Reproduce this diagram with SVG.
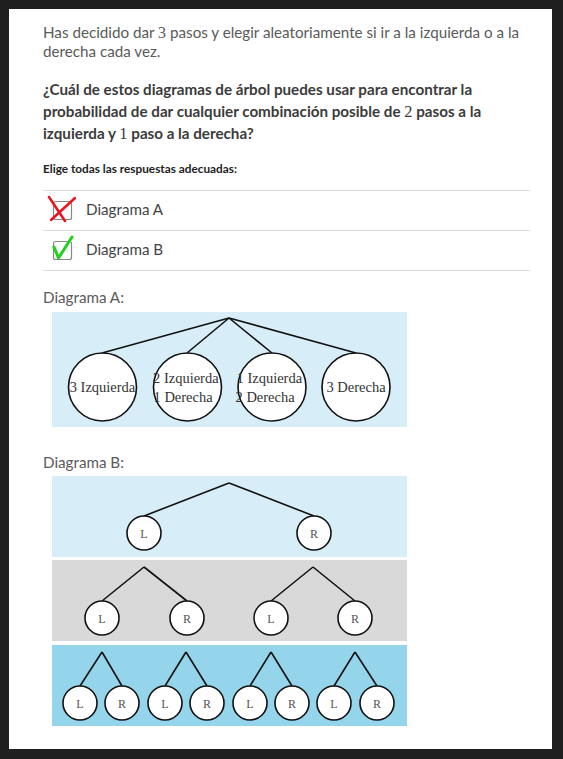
<svg xmlns="http://www.w3.org/2000/svg" width="563" height="759" viewBox="0 0 563 759">
<style>
.t{font-family:Lato,"Open Sans","Liberation Sans",sans-serif;}
.reg{font-size:15.2px;fill:#5a5a5a;}
.bold{font-size:15.2px;font-weight:bold;fill:#3b3b3b;}
.m{font-family:"Liberation Serif","DejaVu Serif",serif;font-weight:normal;}
.opt{font-size:15.2px;fill:#444;}
.nd{fill:#fff;stroke:#111;stroke-width:1.6;}
.ln{stroke:#111;stroke-width:1.6;fill:none;}
.ct{font-family:"Liberation Serif","DejaVu Serif",serif;font-size:14.5px;fill:#333;}
.lt{font-family:"Liberation Serif","DejaVu Serif",serif;font-size:12px;fill:#555;text-anchor:middle;}
.div{stroke:#dcdcdc;stroke-width:1;}
</style>
<rect x="0" y="0" width="563" height="759" fill="#1f1f1f"/>
<rect x="9" y="9" width="543" height="740" fill="#fff"/>

<g id="prompt">
<text class="t reg" x="43" y="38">Has decidido dar <tspan class="m" font-size="16">3</tspan> pasos y elegir aleatoriamente si ir a la izquierda o a la</text>
<text class="t reg" x="43" y="57">derecha cada vez.</text>
<text class="t bold" x="43" y="95">¿Cuál de estos diagramas de árbol puedes usar para encontrar la</text>
<text class="t bold" x="43" y="117">probabilidad de dar cualquier combinación posible de <tspan class="m" font-size="16.5">2</tspan> pasos a la</text>
<text class="t bold" x="43" y="139">izquierda y <tspan class="m" font-size="16.5">1</tspan> paso a la derecha?</text>
<text class="t" x="43" y="173" font-size="11.8" font-weight="bold" fill="#222">Elige todas las respuestas adecuadas:</text>
</g>

<g id="options">
<line class="div" x1="43" y1="190.5" x2="530" y2="190.5"/>
<line class="div" x1="43" y1="230.5" x2="530" y2="230.5"/>
<line class="div" x1="43" y1="270.5" x2="530" y2="270.5"/>
<g id="optA">
<rect x="53.5" y="201.5" width="18" height="18" rx="2" fill="#fff" stroke="#888" stroke-width="1.2"/>
<line x1="49" y1="197" x2="65" y2="221" stroke="#e8141e" stroke-width="2.5" stroke-linecap="round"/>
<line x1="75" y1="198" x2="51" y2="220" stroke="#e8141e" stroke-width="2.5" stroke-linecap="round"/>
<text class="t opt" x="86" y="215">Diagrama A</text>
</g>
<g id="optB">
<rect x="53.5" y="241.5" width="18" height="18" rx="2" fill="#fff" stroke="#888" stroke-width="1.2"/>
<polyline points="54,247 58.5,258 72,237" fill="none" stroke="#1fd01f" stroke-width="3" stroke-linecap="round" stroke-linejoin="round"/>
<text class="t opt" x="86" y="255">Diagrama B</text>
</g>
</g>

<text class="t reg" x="43" y="303">Diagrama A:</text>
<rect x="52" y="312" width="355" height="115" fill="#d7eef9"/>
<g id="connectorsA">
<line class="ln" x1="229" y1="318" x2="102" y2="353"/>
<line class="ln" x1="229" y1="318" x2="187" y2="353"/>
<line class="ln" x1="229" y1="318" x2="272" y2="353"/>
<line class="ln" x1="229" y1="318" x2="356" y2="353"/>
</g>
<g id="a1"><circle class="nd" cx="102.5" cy="387" r="34"/><text class="ct" x="102.5" y="392" text-anchor="middle">3 Izquierda</text></g>
<g id="a2"><circle class="nd" cx="187.5" cy="387" r="34"/><text class="ct" x="153" y="382.5">2 Izquierda</text><text class="ct" x="153.5" y="402">1 Derecha</text></g>
<g id="a3"><circle class="nd" cx="272" cy="387" r="34"/><text class="ct" x="236.5" y="382.5">1 Izquierda</text><text class="ct" x="235.5" y="402">2 Derecha</text></g>
<g id="a4"><circle class="nd" cx="356" cy="387" r="34"/><text class="ct" x="356" y="392" text-anchor="middle">3 Derecha</text></g>

<text class="t reg" x="43" y="468">Diagrama B:</text>
<rect x="52" y="476" width="355" height="81" fill="#d7eef9"/>
<rect x="52" y="560" width="355" height="81" fill="#d9d9d9"/>
<rect x="52" y="645" width="355" height="81" fill="#95d5ec"/>
<g id="connectorsB">
<line class="ln" x1="229" y1="483" x2="144" y2="516"/>
<line class="ln" x1="229" y1="483" x2="314" y2="516"/>
<line class="ln" x1="144" y1="567" x2="102" y2="601"/>
<line class="ln" x1="144" y1="567" x2="187" y2="601"/>
<line class="ln" x1="313" y1="567" x2="271" y2="601"/>
<line class="ln" x1="313" y1="567" x2="355" y2="601"/>
<line class="ln" x1="102" y1="652" x2="80" y2="686"/>
<line class="ln" x1="102" y1="652" x2="122" y2="686"/>
<line class="ln" x1="186" y1="652" x2="165" y2="686"/>
<line class="ln" x1="186" y1="652" x2="207" y2="686"/>
<line class="ln" x1="271" y1="652" x2="250" y2="686"/>
<line class="ln" x1="271" y1="652" x2="292" y2="686"/>
<line class="ln" x1="355" y1="652" x2="334" y2="686"/>
<line class="ln" x1="355" y1="652" x2="377" y2="686"/>
</g>
<g id="b1L"><circle class="nd" cx="144" cy="533" r="17"/><text class="lt" x="144" y="537.5">L</text></g>
<g id="b1R"><circle class="nd" cx="314" cy="533" r="17"/><text class="lt" x="314" y="537.5">R</text></g>
<g id="b2L1"><circle class="nd" cx="102" cy="618" r="17"/><text class="lt" x="102" y="622.5">L</text></g>
<g id="b2R1"><circle class="nd" cx="187" cy="618" r="17"/><text class="lt" x="187" y="622.5">R</text></g>
<g id="b2L2"><circle class="nd" cx="271" cy="618" r="17"/><text class="lt" x="271" y="622.5">L</text></g>
<g id="b2R2"><circle class="nd" cx="355" cy="618" r="17"/><text class="lt" x="355" y="622.5">R</text></g>
<g id="b3L1"><circle class="nd" cx="80" cy="703" r="17"/><text class="lt" x="80" y="707.5">L</text></g>
<g id="b3R1"><circle class="nd" cx="122" cy="703" r="17"/><text class="lt" x="122" y="707.5">R</text></g>
<g id="b3L2"><circle class="nd" cx="165" cy="703" r="17"/><text class="lt" x="165" y="707.5">L</text></g>
<g id="b3R2"><circle class="nd" cx="207" cy="703" r="17"/><text class="lt" x="207" y="707.5">R</text></g>
<g id="b3L3"><circle class="nd" cx="250" cy="703" r="17"/><text class="lt" x="250" y="707.5">L</text></g>
<g id="b3R3"><circle class="nd" cx="292" cy="703" r="17"/><text class="lt" x="292" y="707.5">R</text></g>
<g id="b3L4"><circle class="nd" cx="334" cy="703" r="17"/><text class="lt" x="334" y="707.5">L</text></g>
<g id="b3R4"><circle class="nd" cx="377" cy="703" r="17"/><text class="lt" x="377" y="707.5">R</text></g>
</svg>
